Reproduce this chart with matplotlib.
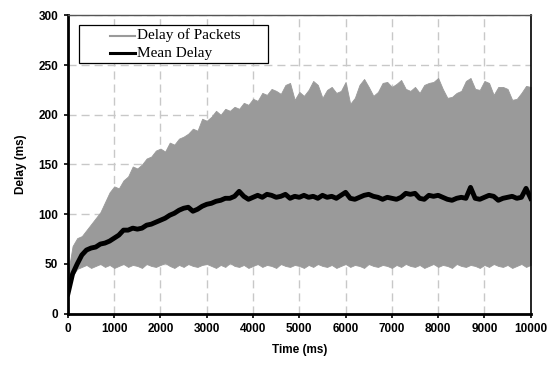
import numpy as np
import matplotlib
matplotlib.use('Agg')
import matplotlib.pyplot as plt
from matplotlib.lines import Line2D
from matplotlib.patches import Rectangle

# ------------------------------
# Data (one sample every 100 ms)
# ------------------------------
time_ms = list(range(0, 10001, 100))

# upper envelope of the packet delay (ms)
packet_peak = [
    40, 68, 76, 78, 84, 90, 96, 102, 112, 122,
    128, 126, 134, 138, 148, 146, 150, 156, 158, 164,
    166, 163, 172, 170, 176, 178, 181, 186, 184, 196,
    194, 198, 204, 200, 206, 204, 208, 206, 212, 210,
    216, 214, 222, 220, 226, 224, 221, 230, 232, 215,
    223, 219, 225, 234, 230, 217, 225, 228, 222, 224,
    233, 211, 217, 230, 236, 228, 219, 223, 232, 233,
    228, 231, 235, 226, 224, 228, 222, 230, 232, 233,
    237, 226, 217, 218, 222, 224, 234, 237, 226, 225,
    234, 232, 220, 228, 228, 226, 215, 216, 222, 229,
    228,
]

# lower envelope of the packet delay (ms)
packet_low = [
    20, 38, 45, 47, 49, 46, 48, 50, 47, 49,
    46, 48, 50, 47, 49, 48, 46, 50, 48, 47,
    49, 51, 48, 46, 49, 47, 50, 48, 47, 49,
    50, 48, 46, 49, 47, 51, 48, 47, 49, 46,
    48, 50, 47, 49, 48, 46, 50, 48, 47, 49,
    48, 46, 49, 47, 50, 48, 47, 49, 46, 48,
    50, 47, 49, 48, 46, 50, 48, 47, 49, 48,
    46, 49, 47, 50, 48, 47, 49, 46, 48, 50,
    47, 49, 48, 46, 50, 48, 47, 49, 48, 46,
    49, 47, 50, 48, 47, 49, 46, 48, 50, 47,
    49,
]

mean_delay = [
    20, 40, 50, 59, 64, 66, 67, 70, 71, 73,
    76, 79, 84, 84, 86, 85, 86, 89, 90, 92,
    94, 96, 99, 101, 104, 106, 107, 103, 105, 108,
    110, 111, 113, 114, 116, 116, 118, 123, 118, 115,
    117, 119, 117, 120, 119, 117, 118, 120, 116, 118,
    117, 119, 117, 118, 116, 119, 117, 118, 116, 119,
    122, 116, 115, 117, 119, 120, 118, 117, 115, 117,
    116, 115, 117, 121, 120, 121, 116, 115, 119, 118,
    119, 117, 115, 114, 116, 117, 116, 127, 116, 115,
    117, 119, 118, 114, 116, 117, 118, 116, 117, 126,
    116,
]

x_ticks = list(range(0, 10001, 1000))
y_ticks = list(range(0, 301, 50))
legend_labels = ['Delay of Packets', 'Mean Delay']

# ------------------------------
# Plot
# ------------------------------
gray = '#9a9a9a'

fig = plt.figure(figsize=(5.48, 3.68), dpi=100)
ax = fig.add_axes([0.124, 0.1476, 0.8444, 0.8108])

ax.fill_between(time_ms, packet_low, packet_peak, color=gray,
                lw=0.6, edgecolor=gray, zorder=2)
ax.plot(time_ms, mean_delay, color='black', lw=3.5, zorder=3)

ax.set_xlim(0, 10000)
ax.set_ylim(0, 300)
ax.set_xticks(x_ticks)
ax.set_yticks(y_ticks)

ax.grid(True, color='#c8c8c8', lw=1, linestyle=(0, (5.8, 3.6)), zorder=0)
ax.set_axisbelow(True)

for lbl in ax.get_xticklabels() + ax.get_yticklabels():
    lbl.set_fontfamily('Liberation Sans')
    lbl.set_fontweight('bold')
    lbl.set_fontsize(8.5)
ax.tick_params(direction='out', length=3, width=1.2, pad=4)

ax.spines['left'].set_linewidth(2)
ax.spines['bottom'].set_linewidth(2)
ax.spines['top'].set_linewidth(1)
ax.spines['top'].set_color('#555555')
ax.spines['right'].set_linewidth(1.2)

ax.set_xlabel('Time (ms)', fontfamily='Liberation Sans', fontweight='bold',
              fontsize=8.5, labelpad=6)
ax.set_ylabel('Delay (ms)', fontfamily='Liberation Sans', fontweight='bold',
              fontsize=8.5, labelpad=8)

# legend box drawn by hand (wide box, tight rows as in the original)
tr = ax.transAxes
ax.add_patch(Rectangle((0.024, 0.839), 0.408, 0.1285, transform=tr,
                       facecolor='white', edgecolor='black', lw=0.9,
                       zorder=5))
for y, col, lw, lab in zip([0.932, 0.873], [gray, 'black'], [1.5, 2.2],
                           legend_labels):
    ax.add_line(Line2D([0.091, 0.145], [y, y], transform=tr, color=col,
                       lw=lw, zorder=6))
    ax.text(0.150, y, lab, transform=tr, va='center', ha='left',
            fontfamily='Liberation Serif', fontsize=11, zorder=6)

fig.savefig('out.png', dpi=100)
